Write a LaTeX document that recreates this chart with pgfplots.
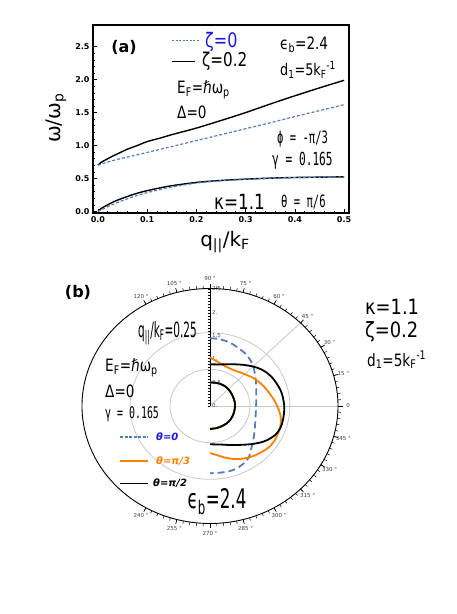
\documentclass[border=0pt]{standalone}
\usepackage{pgfplots}
\pgfplotsset{compat=1.18}
\usepackage{fontspec}
\setmainfont{DejaVu Sans}
\newfontfamily\cond[FakeStretch=0.8]{DejaVu Sans}
\newfontfamily\condb[FakeStretch=0.85]{DejaVu Sans}
\newfontfamily\narrow[FakeStretch=0.62]{DejaVu Sans}
\newfontfamily\vnarrow[FakeStretch=0.5]{DejaVu Sans}
\newfontfamily\mono[FakeStretch=0.62]{DejaVu Sans Mono}
\newcommand\fs[1]{\fontsize{#1bp}{#1bp}\selectfont}
\definecolor{sblue}{RGB}{85,125,190}
\definecolor{orng}{RGB}{255,128,0}
\definecolor{lblue}{RGB}{25,25,235}
\definecolor{gridgray}{RGB}{200,200,200}
\begin{document}
\begin{tikzpicture}[x=1bp,y=1bp]
\useasboundingbox (0,0) rectangle (457,614);
% ---------------- panel (a)
\begin{axis}[
 scale only axis, width=256bp, height=188bp,
 at={(93bp,401bp)}, anchor=south west,
 xmin=-0.01, xmax=0.51, ymin=-0.024, ymax=2.83,
 xtick={0,0.1,0.2,0.3,0.4,0.5}, ytick={0,0.5,1,1.5,2,2.5},
 xticklabels={0.0,0.1,0.2,0.3,0.4,0.5},
 yticklabels={0.0,0.5,1.0,1.5,2.0,2.5},
 minor x tick num=4, minor y tick num=4,
 tick align=inside,
 major tick length=4bp, minor tick length=2bp,
 axis line style={line width=1.3bp},
 every tick/.style={black, line width=0.6bp},
 tick label style={font=\bfseries\fs{8}},
 xtick pos=bottom, ytick pos=left,
]
\addplot[black, line width=1.4bp, smooth] coordinates {
(0,0.70) (0.005,0.735) (0.01,0.76) (0.02,0.80) (0.03,0.84) (0.04,0.875) (0.06,0.945) (0.08,1.00) (0.1,1.06) (0.125,1.11) (0.15,1.165) (0.2,1.265) (0.25,1.38) (0.3,1.50) (0.35,1.63) (0.4,1.755) (0.45,1.875) (0.5,1.99)};
\addplot[sblue, line width=1.2bp, dash pattern=on 3bp off 2bp, smooth] coordinates {
(0,0.70) (0.01,0.725) (0.02,0.75) (0.04,0.79) (0.06,0.825) (0.08,0.86) (0.1,0.895) (0.15,0.985) (0.2,1.075) (0.25,1.165) (0.3,1.255) (0.35,1.345) (0.4,1.44) (0.45,1.53) (0.5,1.62)};
\addplot[black, line width=1.4bp, smooth] coordinates {
(0,0) (0.005,0.035) (0.01,0.06) (0.02,0.10) (0.03,0.14) (0.05,0.20) (0.075,0.265) (0.1,0.315) (0.125,0.355) (0.15,0.39) (0.2,0.44) (0.25,0.47) (0.3,0.49) (0.35,0.505) (0.4,0.515) (0.45,0.52) (0.5,0.525)};
\addplot[sblue, line width=1.2bp, dash pattern=on 3bp off 2bp, smooth] coordinates {
(0,0) (0.01,0.035) (0.02,0.07) (0.03,0.105) (0.05,0.165) (0.075,0.23) (0.1,0.285) (0.125,0.33) (0.15,0.37) (0.2,0.43) (0.25,0.465) (0.3,0.487) (0.35,0.503) (0.4,0.513) (0.45,0.52) (0.5,0.525)};
\end{axis}
\node[rotate=90, font=\fs{20}] at (56,496) {ω/ω\textsubscript{p}};
\node[font=\fs{20}] at (225,372) {q\textsubscript{||}/k\textsubscript{F}};
\node[font=\bfseries\fs{16}] at (124,567) {(a)};
\draw[sblue, line width=1.3bp, dash pattern=on 2bp off 1.5bp] (172,573.3) -- (200,573.3);
\node[anchor=west, inner sep=0, lblue, font=\cond\fs{20}] at (205,572) {ζ=0};
\draw[black, line width=1.4bp] (172,552.3) -- (195,552.3);
\node[anchor=west, inner sep=0, font=\cond\fs{19}] at (202,553) {ζ=0.2};
\node[anchor=west, inner sep=0, font=\cond\fs{17}] at (177,524) {E\textsubscript{F}=ℏω\textsubscript{p}};
\node[anchor=west, inner sep=0, font=\cond\fs{17}] at (177,502) {Δ=0};
\node[anchor=west, inner sep=0, font=\cond\fs{17}] at (280,569) {ϵ\textsubscript{b}=2.4};
\node[anchor=west, inner sep=0, font=\cond\fs{16}] at (280,544) {d\textsubscript{1}=5k\textsubscript{F}\textsuperscript{-1}};
\node[anchor=west, inner sep=0, font=\mono\fs{17}] at (277,475) {ϕ = -π/3};
\node[anchor=west, inner sep=0, font=\mono\fs{18}] at (272,453) {γ = 0.165};
\node[anchor=west, inner sep=0, font=\cond\fs{21}] at (214,412) {κ=1.1};
\node[anchor=west, inner sep=0, font=\mono\fs{17}] at (281,412) {θ = π/6};
% ---------------- panel (b) frame
\draw[gridgray, line width=0.8bp] (210,208) ellipse [x radius=40, y radius=36.7];
\draw[gridgray, line width=0.8bp] (210,208) ellipse [x radius=79.9, y radius=73.3];
\draw[gridgray, line width=0.8bp] (210,208) -- (338,208);
\draw[gridgray, line width=0.8bp] (210,208) -- (300.5,291.1);
\draw[black, line width=0.9bp] (210,208) ellipse [x radius=128, y radius=117.5];
\foreach \a in {-120,-117,...,120} \draw[line width=0.5bp] ({210+128*cos(\a)},{208+117.5*sin(\a)}) -- ({210+131*cos(\a)},{208+120.5*sin(\a)});
\foreach \a in {-120,-105,...,120} \draw[line width=0.6bp] ({210+128*cos(\a)},{208+117.5*sin(\a)}) -- ({210+132.5*cos(\a)},{208+122*sin(\a)});
\foreach \a/\t in {120/120 °,105/105 °,90/90 °,75/75 °,60/60 °,45/45 °,30/30 °,15/15 °,0/0,-15/345 °,-30/330 °,-45/315 °,-60/300 °,-75/285 °,-90/270 °,-105/255 °,-120/240 °}
  \node[font=\fs{5.5}, text=black!75] at ({210+138*cos(\a)},{208+127*sin(\a)}) {\t};
\draw[black, line width=0.6bp] (210,208) -- (210,325.5);
\foreach \y in {0,3,...,117} \draw[line width=0.5bp] (207.5,208+\y) -- (210,208+\y);
\foreach \r/\t in {0/0.,0.5/0.5,1/1.,1.5/1.5,2/2.,2.5/2.5}
  \node[anchor=west, inner sep=0, font=\fs{5.5}, text=black!70] at (212,{208+\r*47}) {\t};
% ---------------- panel (b) curves
\begin{axis}[
 scale only axis, width=256bp, height=235bp,
 at={(82bp,90.5bp)}, anchor=south west,
 xmin=-2.5, xmax=2.5, ymin=-2.5, ymax=2.5,
 axis lines=none, clip=false,
]
\addplot[sblue, line width=1.8bp, dash pattern=on 7bp off 4bp, smooth, data cs=polar] coordinates {
(90,1.44) (84.01,1.438) (78.22,1.420) (72.47,1.395) (67.57,1.363) (61.70,1.329) (56.43,1.302) (50.84,1.251) (44.80,1.192) (36.87,1.10) (28.07,1.02) (15.44,0.939) (0,0.90) (-14.49,0.919) (-28.75,0.998) (-40.40,1.111) (-49.30,1.227) (-55.96,1.340) (-62.14,1.391) (-68.64,1.428) (-73.84,1.437) (-79.55,1.434) (-85.19,1.430) (-90,1.43)};
\addplot[sblue, line width=1.8bp, smooth, data cs=polar] coordinates {
(90,0.50) (78.58,0.505) (66.95,0.511) (54.14,0.512) (40.97,0.503) (26.57,0.492) (11.77,0.490) (0,0.49) (-9.46,0.487) (-21.59,0.489) (-35.94,0.494) (-48.62,0.493) (-61.86,0.488) (-74.54,0.488) (-90,0.49)};
\addplot[orng, line width=1.8bp, smooth, data cs=polar] coordinates {
(90,0.50) (78.58,0.505) (66.95,0.511) (54.14,0.512) (40.97,0.503) (26.57,0.492) (11.77,0.490) (0,0.49) (-9.46,0.487) (-21.59,0.489) (-35.94,0.494) (-48.62,0.490) (-61.86,0.483) (-74.54,0.480) (-90,0.482)};
\addplot[orng, line width=1.8bp, smooth, data cs=polar] coordinates {
(90,1.035) (84.11,0.975) (77.91,0.931) (68.32,0.893) (59.24,0.891) (49.80,0.930) (42.67,0.974) (35.54,1.032) (28.85,1.078) (21.80,1.131) (14.74,1.179) (8.39,1.233) (3.13,1.282) (-2.15,1.331) (-7.07,1.381) (-12.22,1.417) (-18.18,1.442) (-23.56,1.451) (-29.55,1.460) (-36.32,1.452) (-42.71,1.415) (-50.03,1.370) (-57.76,1.312) (-66.13,1.236) (-74.74,1.140) (-83.42,1.047) (-90,1.0)};
\addplot[black, line width=1.8bp, smooth, data cs=polar] coordinates {
(90,0.50) (78.58,0.505) (66.95,0.511) (54.14,0.512) (40.97,0.503) (26.57,0.492) (11.77,0.490) (0,0.49) (-9.46,0.487) (-21.59,0.489) (-35.94,0.494) (-48.62,0.493) (-61.86,0.488) (-74.54,0.488) (-90,0.49)};
\addplot[black, line width=1.8bp, smooth, data cs=polar] coordinates {
(90,0.886) (77.27,0.907) (62.82,0.998) (53.39,1.090) (44.80,1.192) (37.95,1.268) (32.67,1.315) (26.19,1.360) (20.26,1.386) (13.45,1.419) (8.02,1.434) (0,1.45) (-7.91,1.454) (-15.95,1.456) (-21.58,1.441) (-26.02,1.413) (-31.11,1.355) (-36.16,1.288) (-43.44,1.171) (-51.77,1.050) (-64.27,0.921) (-76.29,0.844) (-90,0.815)};
\end{axis}
% ---------------- panel (b) texts
\node[font=\bfseries\fs{16}] at (78,322) {(b)};
\node[anchor=west, inner sep=0, font=\vnarrow\fs{21}] at (138,281) {q\textsubscript{||}/k\textsubscript{F}=0.25};
\node[anchor=west, inner sep=0, font=\cond\fs{17}] at (105,246) {E\textsubscript{F}=ℏω\textsubscript{p}};
\node[anchor=west, inner sep=0, font=\cond\fs{17}] at (105,223) {Δ=0};
\node[anchor=west, inner sep=0, font=\mono\fs{16}] at (105,200) {γ = 0.165};
\draw[sblue, line width=1.3bp, dash pattern=on 3bp off 1.5bp] (120,177) -- (148,177);
\node[anchor=west, inner sep=0, lblue, font=\bfseries\itshape\fs{10}] at (156,177) {θ=0};
\draw[orng, line width=1.5bp] (120,153) -- (148,153);
\node[anchor=west, inner sep=0, orng, font=\bfseries\itshape\fs{10}] at (156,153) {θ=π/3};
\draw[black, line width=0.8bp] (120,131) -- (148,131);
\node[anchor=west, inner sep=0, font=\bfseries\itshape\fs{10}] at (153,131) {θ=π/2};
\node[font=\narrow\fs{27}] at (217,112) {ϵ\textsubscript{b}=2.4};
\node[anchor=west, inner sep=0, font=\condb\fs{21}] at (365,307) {κ=1.1};
\node[anchor=west, inner sep=0, font=\condb\fs{21}] at (365,282) {ζ=0.2};
\node[anchor=west, inner sep=0, font=\cond\fs{17}] at (367,254) {d\textsubscript{1}=5k\textsubscript{F}\textsuperscript{-1}};
\end{tikzpicture}
\end{document}
